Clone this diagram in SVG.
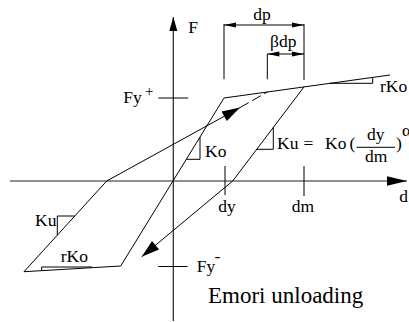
<svg xmlns="http://www.w3.org/2000/svg" width="409" height="322" viewBox="0 0 409 322">
<style>
.ln{fill:none;stroke:#000;stroke-width:1}
.ax{fill:none;stroke:#222;stroke-width:1.2}
.t{font-family:"Liberation Serif","Times New Roman",serif;font-size:17.5px;fill:#000}
.s{font-size:15px}
.big{font-size:23px}
</style>
<defs>
<marker id="dim" markerUnits="userSpaceOnUse" markerWidth="12" markerHeight="6" viewBox="0 -3 12 6" refX="12" refY="0" orient="auto-start-reverse" overflow="visible"><path d="M0,-2.5 L12,0 L0,2.5 z" fill="#000"/></marker>
<marker id="arr" markerUnits="userSpaceOnUse" markerWidth="18" markerHeight="12" viewBox="0 -6 18 12" refX="18" refY="0" orient="auto" overflow="visible"><path d="M0,-5.5 L18,0 L0,5.5 z" fill="#000"/></marker>
<marker id="axy" markerUnits="userSpaceOnUse" markerWidth="14" markerHeight="8" viewBox="0 -4 14 8" refX="14" refY="0" orient="auto" overflow="visible"><path d="M0,-4 L14,0 L0,4 z" fill="#000"/></marker>
<marker id="axx" markerUnits="userSpaceOnUse" markerWidth="20" markerHeight="10" viewBox="0 -5 20 10" refX="20" refY="0" orient="auto" overflow="visible"><path d="M0,-4.7 L20,0 L0,4.7 z" fill="#000"/></marker>
</defs>
<g id="axes">
<line class="ax" x1="173.3" y1="321" x2="173.3" y2="17" marker-end="url(#axy)"/>
<line class="ax" x1="10" y1="181" x2="407" y2="181" marker-end="url(#axx)"/>
<line class="ln" x1="158.3" y1="98" x2="188.3" y2="98"/>
<line class="ln" x1="158.3" y1="266.5" x2="187.5" y2="266.5"/>
<line class="ln" x1="225" y1="166" x2="225" y2="195"/>
<line class="ln" x1="304" y1="166" x2="304" y2="196"/>
</g>
<g id="connectors">
<polyline class="ln" points="24,271.7 120.7,266 224,98 390,75"/>
<line class="ln" x1="304" y1="86.9" x2="232.7" y2="181"/>
<line class="ln" x1="232.7" y1="181" x2="141.7" y2="256.7" marker-end="url(#arr)"/>
<line class="ln" x1="24" y1="271.7" x2="106.7" y2="181"/>
<line class="ln" x1="106.7" y1="181" x2="240" y2="107.6" marker-end="url(#arr)"/>
<line class="ln" x1="240" y1="107.6" x2="267.3" y2="92" stroke-dasharray="10,4"/>
</g>
<g id="slopes">
<polyline class="ln" points="186.4,159.3 200,159.3 200,137.2"/>
<polyline class="ln" points="256.7,149.3 273.3,149.3 273.3,127.4"/>
<polyline class="ln" points="330,83.3 372.7,83.3 372.7,77.4"/>
<polyline class="ln" points="57.3,235.2 57.3,216 74.8,216"/>
<polyline class="ln" points="41.7,270.7 41.7,267 92,267"/>
</g>
<g id="dimensions">
<line class="ln" x1="224" y1="24" x2="224" y2="79.3"/>
<line class="ln" x1="304" y1="24" x2="304" y2="80"/>
<line class="ln" x1="267.3" y1="54" x2="267.3" y2="79.3"/>
<line class="ln" x1="224" y1="25" x2="304" y2="25" marker-start="url(#dim)" marker-end="url(#dim)"/>
<line class="ln" x1="267.3" y1="54" x2="304" y2="54" marker-start="url(#dim)" marker-end="url(#dim)"/>
</g>
<g id="labels">
<text class="t" x="188.3" y="33.3" font-size="16">F</text>
<text class="t" x="253.3" y="20">dp</text>
<text class="t" x="270" y="46.7">βdp</text>
<text class="t" x="123.3" y="102.7">Fy</text>
<text class="t s" x="145" y="95.5">+</text>
<text class="t" x="196.7" y="271.7">Fy</text>
<text class="t" x="214.5" y="261.5" font-size="13">-</text>
<text class="t" x="205" y="157.3">Ko</text>
<text class="t" x="277" y="149.3">Ku</text>
<text class="t" x="303.5" y="149.3">=</text>
<text class="t" x="325" y="149.3">Ko</text>
<text class="t" x="349.5" y="149.3">(</text>
<text class="t" x="367" y="140">dy</text>
<line class="ln" x1="356.5" y1="147.3" x2="395" y2="147.3"/>
<text class="t" x="365" y="161.5">dm</text>
<text class="t" x="396" y="149.3">)</text>
<text class="t" x="402" y="136">α</text>
<text class="t" x="380" y="92">rKo</text>
<text class="t" x="399.3" y="201.7">d</text>
<text class="t" x="218.3" y="211.7">dy</text>
<text class="t" x="291.7" y="211.7">dm</text>
<text class="t" x="35" y="225.7">Ku</text>
<text class="t" x="60.7" y="261.7">rKo</text>
<text class="t big" x="208" y="303.3">Emori unloading</text>
</g>
</svg>
